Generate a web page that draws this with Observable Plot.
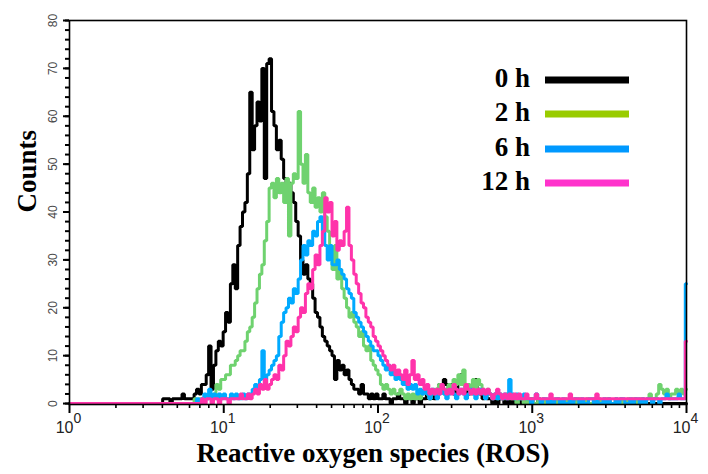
<!DOCTYPE html>
<html>
<head>
<meta charset="utf-8">
<script src="https://cdn.jsdelivr.net/npm/d3@7"></script>
<script src="https://cdn.jsdelivr.net/npm/@observablehq/plot@0.6"></script>
<style>
  body { margin: 0; background: #fff; }
</style>
</head>
<body>
<div id="chart"></div>
<script>
// ROS flow-cytometry histograms: 256 log channels spanning 10^0 .. 10^4.
const timepoints = ["0 h", "2 h", "6 h", "12 h"];
const lineColors = ["#000000", "#6fd26f", "#00aaff", "#ff33aa"];
const legendColors = ["#000000", "#99cc00", "#0099ff", "#ff33cc"];

// first channel of each recorded run of counts (channels before it are empty)
const firstChannel = [39, 52, 53, 55];

const counts0h = [
  1,1,1,0,1,1,1,1,2,1,1,1,1,2,
  3,2,4,4,6,12,3,8,
  11,13,12,15,19,17,25,29,24,33,
  37,40,42,48,65,53,58,63,59,70,
  47,71,72,61,58,53,55,51,47,45,
  46,44,42,38,35,30,27,29,26,25,
  22,19,18,16,14,13,12,11,10,5,
  9,7,8,6,7,5,4,3,3,2,
  4,2,2,1,2,1,2,1,1,2,
  1,1,0,1,1,2,1,1,0,1,
  1,0,1,1,0,1,1,2,1,2,
  1,3,4,3,5,4,3,4,2,3,
  5,6,4,3,2,3,4,5,3,2,
  1,2,1,1,0,1,0,1,1,0,
  1,0,1,0,1,1,0,0,1,0,1,0,0,1
];

const counts2h = [
  1,0,1,1,1,1,2,1,2,
  4,3,5,5,6,6,8,8,9,10,
  11,11,13,15,16,18,21,24,27,29,
  34,38,45,46,43,47,44,46,42,47,
  35,46,48,47,61,50,46,52,44,42,
  45,41,43,40,44,39,36,31,28,33,
  26,28,24,22,20,18,19,17,16,14,
  15,12,11,12,9,8,7,6,4,3,
  4,3,2,3,2,2,3,2,1,2,
  1,2,1,2,1,2,3,2,1,2,
  3,2,4,3,2,3,4,3,5,4,
  6,4,7,3,4,2,5,3,5,4,
  3,2,3,2,1,2,1,2,1,1,
  2,1,1,1,0,1,1,0,1,0,
  1,0,0,1,0,1,0,0,1,0,
  0,1,0,0,1,0,0,0,1,0,
  1,0,0,1,0,0,1,0,1,0,
  0,1,1,0,0,1,0,1,0,0,
  1,0,1,1,0,1,1,0,1,2,
  1,1,2,4,3,2,3,1,2,2,
  3,2,3,2,3
];

const counts6h = [
  1,0,1,2,1,3,1,2,
  1,2,1,2,1,1,2,1,2,1,
  1,2,1,2,2,3,4,3,5,11,
  5,6,7,8,9,10,14,17,19,20,
  22,21,24,23,26,30,33,31,34,33,
  36,35,38,39,36,33,30,33,29,29,
  30,28,27,26,24,23,22,19,18,17,
  16,15,14,13,12,11,11,10,9,8,
  7,8,6,7,5,6,5,4,5,3,
  4,3,4,2,3,2,3,2,1,3,
  2,1,2,3,2,1,2,3,2,1,
  2,3,2,1,2,3,2,1,2,3,
  2,1,2,2,1,2,1,2,1,2,
  1,5,2,1,2,1,1,2,1,1,
  0,1,2,1,0,1,1,0,1,0,
  1,1,0,1,0,0,1,0,1,1,
  0,1,0,0,1,1,0,1,0,0,
  1,0,1,0,0,1,0,1,1,0,
  0,1,0,1,1,0,1,0,1,1,
  0,1,1,0,1,1,2,1,1,1,
  1,2,1,1,25
];

const counts12h = [
  1,0,1,1,0,1,
  1,0,1,1,1,0,1,1,1,1,
  2,1,1,2,1,2,3,2,4,3,
  5,3,4,5,6,5,8,7,10,13,
  12,14,16,15,18,20,19,23,25,24,
  28,31,29,33,36,43,40,42,35,38,
  32,34,33,36,41,33,30,27,25,23,
  21,20,18,17,16,14,13,12,11,10,
  9,8,7,8,6,7,6,5,7,4,
  6,9,5,6,4,5,3,4,2,3,
  2,3,2,4,3,2,3,2,4,3,
  2,3,2,4,3,2,3,2,3,2,
  3,2,3,2,1,2,3,2,1,2,
  1,2,1,2,1,2,1,1,2,1,
  1,1,2,1,1,1,1,1,2,1,
  1,1,1,1,1,1,2,1,1,1,
  1,1,1,1,1,1,1,2,1,1,
  1,1,1,1,1,1,1,1,1,1,
  1,1,1,1,1,1,1,1,1,1,
  1,1,1,1,1,1,1,1,1,1,
  1,1,1,1,13
];

const seriesCounts = [counts0h, counts2h, counts6h, counts12h];

// axis ticks
const yTickValues = [0, 10, 20, 30, 40, 50, 60, 70, 80];
const xTickExponents = [0, 1, 2, 3, 4];

const N_CHANNELS = 256;
const channelToValue = c => 10 ** (4 * c / (N_CHANNELS - 1));

function histogramRows(counts, start) {
  const rows = [];
  for (let c = 0; c < N_CHANNELS; c++) {
    const i = c - start;
    rows.push({x: channelToValue(c), y: i >= 0 && i < counts.length ? counts[i] : 0});
  }
  return rows;
}

const yMinor = d3.range(0, 81, 2);
const xMajor = xTickExponents.map(e => 10 ** e);
const xMinor = xTickExponents.slice(0, -1).flatMap(e => d3.range(2, 10).map(k => k * 10 ** e));

const sansNarrow = "'Liberation Sans Narrow', 'Liberation Sans', Arial, sans-serif";
const serif = "'Liberation Serif', 'Times New Roman', serif";

const plot = Plot.plot({
  width: 708,
  height: 474,
  marginLeft: 69,
  marginRight: 22,
  marginTop: 20,
  marginBottom: 70,
  style: {background: "#fff"},
  x: {type: "log", domain: [1, 10000], axis: null},
  y: {domain: [-0.2, 80], axis: null},
  marks: [
    ...seriesCounts.map((counts, k) =>
      Plot.line(histogramRows(counts, firstChannel[k]), {
        x: "x", y: "y", curve: "step",
        stroke: lineColors[k], strokeWidth: 3, strokeLinejoin: "miter"
      })
    ),
    Plot.frame({stroke: "#000", strokeWidth: 1.6}),
    Plot.axisY(yMinor, {tickSize: 4, strokeWidth: 2, tickFormat: () => "", label: null}),
    Plot.axisY(yTickValues, {tickSize: 6, strokeWidth: 2, tickFormat: () => "", label: null}),
    Plot.axisX(xMinor, {tickSize: 4, strokeWidth: 1.6, tickFormat: () => "", label: null}),
    Plot.axisX(xMajor, {tickSize: 9, strokeWidth: 2, tickFormat: () => "", label: null}),
    Plot.text(yTickValues, {
      y: d => d, frameAnchor: "left", dx: -16, rotate: -90,
      text: d => String(d), textAnchor: "middle", lineAnchor: "middle",
      fontSize: 12, fill: "#4a4a4a", fontFamily: "'Liberation Sans', Arial, sans-serif"
    }),
    Plot.text(xTickExponents, {
      x: d => 10 ** d, frameAnchor: "bottom", dx: 4, dy: 23,
      text: () => "10", textAnchor: "end", lineAnchor: "middle",
      fontSize: 16, fill: "#222", fontFamily: sansNarrow
    }),
    Plot.text(xTickExponents, {
      x: d => 10 ** d, frameAnchor: "bottom", dx: 4, dy: 14,
      text: d => String(d), textAnchor: "start", lineAnchor: "middle",
      fontSize: 14, fill: "#222", fontFamily: sansNarrow
    }),
    Plot.text(["Counts"], {
      frameAnchor: "left", dx: -42, rotate: -90, text: d => d,
      fontSize: 27, fontWeight: "bold", fontFamily: serif, fill: "#000"
    }),
    Plot.text(["Reactive oxygen species (ROS)"], {
      frameAnchor: "bottom", dx: -5, dy: 57, text: d => d,
      fontSize: 27, fontWeight: "bold", fontFamily: serif, fill: "#000"
    })
  ]
});

// legend: time labels with swatch lines, top right of the frame
const legend = d3.select(plot).append("g").attr("class", "legend");
const legendRowY = [80, 114, 149, 183];
timepoints.forEach((label, i) => {
  const y = legendRowY[i];
  legend.append("text")
    .attr("x", 530).attr("y", y + 7)
    .attr("text-anchor", "end")
    .attr("font-family", serif)
    .attr("font-weight", "bold")
    .attr("font-size", 27)
    .attr("fill", "#000")
    .text(label);
  legend.append("line")
    .attr("x1", 545).attr("x2", 629)
    .attr("y1", y).attr("y2", y)
    .attr("stroke", legendColors[i])
    .attr("stroke-width", 7);
});

document.getElementById("chart").appendChild(plot);
</script>
</body>
</html>
